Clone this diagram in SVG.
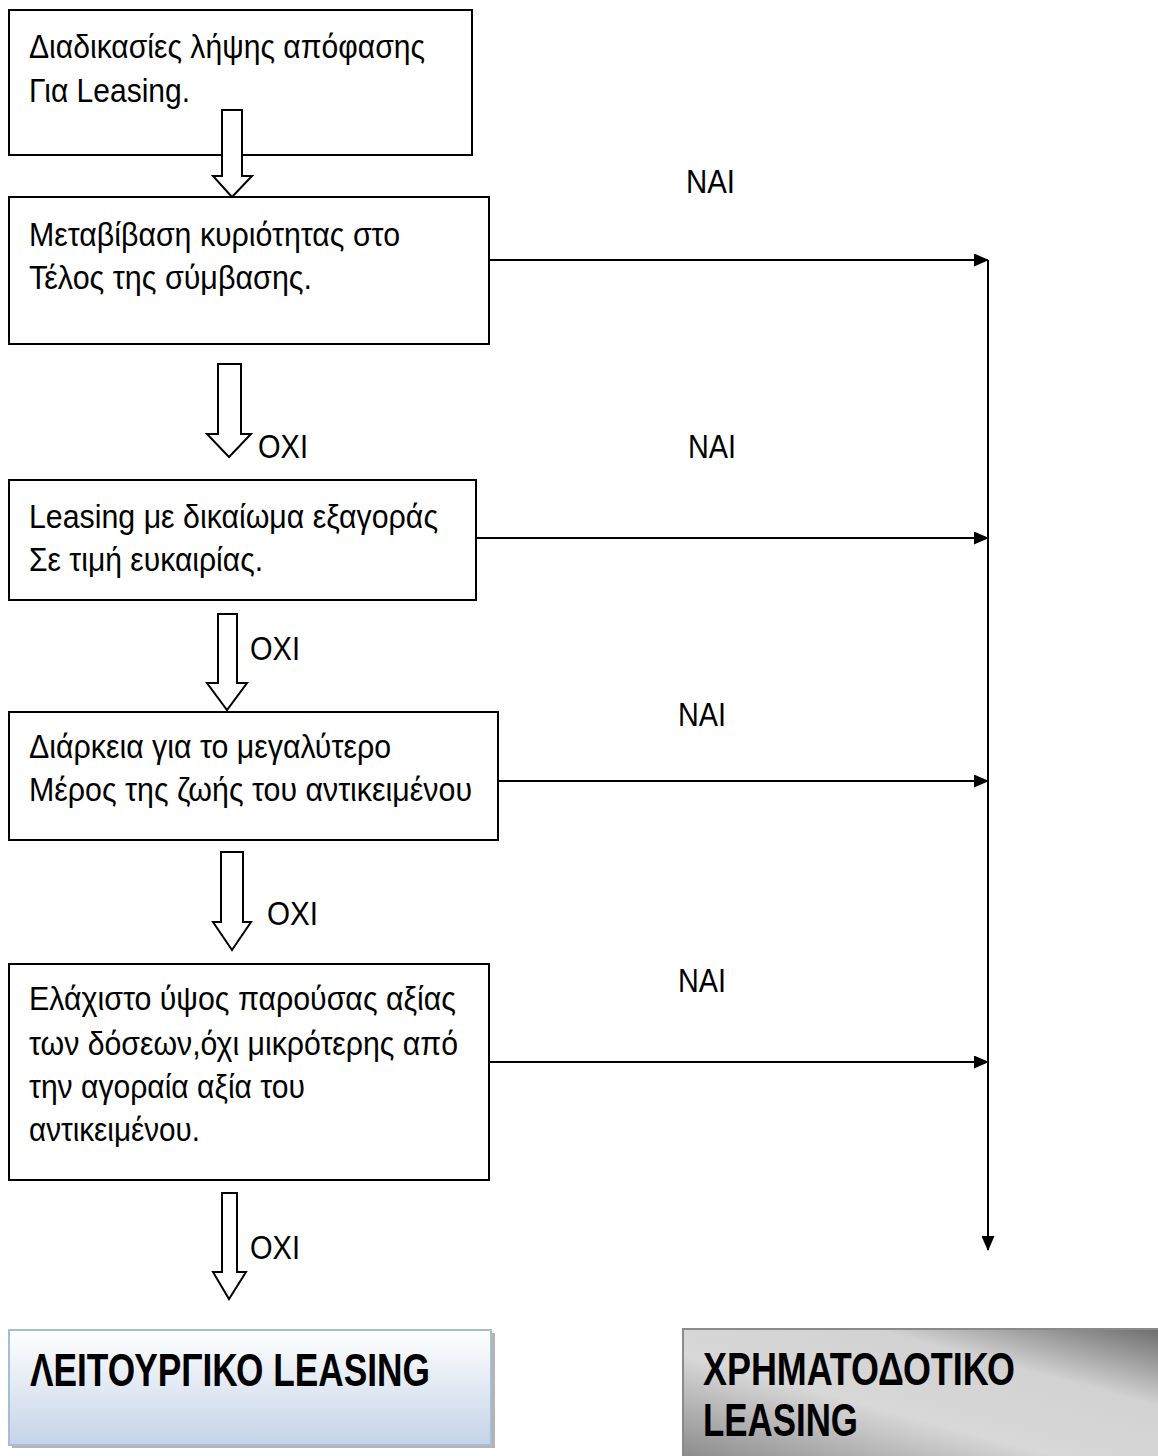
<svg xmlns="http://www.w3.org/2000/svg" width="1158" height="1456" viewBox="0 0 1158 1456">
<style>
.box{fill:#fff;stroke:#000;stroke-width:2}
.t{font-family:"Liberation Sans",Arial,sans-serif;font-size:34px;fill:#000}
.b{font-family:"Liberation Sans",Arial,sans-serif;font-size:46px;font-weight:bold;fill:#000}
.ba{fill:#fff;stroke:#000;stroke-width:2;stroke-linejoin:miter}
.ln{stroke:#000;stroke-width:2;fill:none}
</style>
<defs>
<marker id="ah" markerWidth="15" markerHeight="13" refX="14" refY="6.5" orient="auto" markerUnits="userSpaceOnUse">
<path d="M0,0 L15,6.5 L0,13 Z" fill="#000"/>
</marker>
<linearGradient id="blue" x1="0" y1="0" x2="0" y2="1">
<stop offset="0" stop-color="#ffffff"/>
<stop offset="1" stop-color="#c4d3e8"/>
</linearGradient>
<linearGradient id="grey" x1="0" y1="1" x2="1" y2="0">
<stop offset="0" stop-color="#8a8a8a"/>
<stop offset="0.4" stop-color="#d8d8d8"/>
<stop offset="0.7" stop-color="#d2d2d2"/>
<stop offset="1" stop-color="#6c6c6c"/>
</linearGradient>
</defs>

<g id="connectors">
<line class="ln" x1="489" y1="260" x2="988" y2="260" marker-end="url(#ah)"/>
<line class="ln" x1="476" y1="538" x2="988" y2="538" marker-end="url(#ah)"/>
<line class="ln" x1="498" y1="781" x2="988" y2="781" marker-end="url(#ah)"/>
<line class="ln" x1="489" y1="1062" x2="988" y2="1062" marker-end="url(#ah)"/>
<line class="ln" x1="988" y1="260" x2="988" y2="1250" marker-end="url(#ah)"/>
<text class="t" x="686" y="193" textLength="49" lengthAdjust="spacingAndGlyphs">NAI</text>
<text class="t" x="688" y="458" textLength="48" lengthAdjust="spacingAndGlyphs">NAI</text>
<text class="t" x="678" y="726" textLength="48" lengthAdjust="spacingAndGlyphs">NAI</text>
<text class="t" x="678" y="992" textLength="48" lengthAdjust="spacingAndGlyphs">NAI</text>
<text class="t" x="258" y="458" textLength="50" lengthAdjust="spacingAndGlyphs">OXI</text>
<text class="t" x="250" y="660" textLength="50" lengthAdjust="spacingAndGlyphs">OXI</text>
<text class="t" x="267" y="925" textLength="51" lengthAdjust="spacingAndGlyphs">OXI</text>
<text class="t" x="250" y="1259" textLength="50" lengthAdjust="spacingAndGlyphs">OXI</text>
</g>

<g id="n1">
<rect class="box" x="9" y="10" width="463" height="145"/>
<text class="t" x="29" y="58" textLength="396" lengthAdjust="spacingAndGlyphs">Διαδικασίες λήψης απόφασης</text>
<text class="t" x="29" y="102" textLength="161" lengthAdjust="spacingAndGlyphs">Για Leasing.</text>
</g>

<g id="n2">
<rect class="box" x="9" y="197" width="480" height="147"/>
<text class="t" x="29" y="246" textLength="371" lengthAdjust="spacingAndGlyphs">Μεταβίβαση κυριότητας στο</text>
<text class="t" x="29" y="289" textLength="283" lengthAdjust="spacingAndGlyphs">Τέλος της σύμβασης.</text>
</g>

<g id="n3">
<rect class="box" x="9" y="480" width="467" height="120"/>
<text class="t" x="29" y="528" textLength="409" lengthAdjust="spacingAndGlyphs">Leasing με δικαίωμα εξαγοράς</text>
<text class="t" x="29" y="571" textLength="234" lengthAdjust="spacingAndGlyphs">Σε τιμή ευκαιρίας.</text>
</g>

<g id="n4">
<rect class="box" x="9" y="712" width="489" height="128"/>
<text class="t" x="29" y="758" textLength="362" lengthAdjust="spacingAndGlyphs">Διάρκεια για το μεγαλύτερο</text>
<text class="t" x="29" y="801" textLength="443" lengthAdjust="spacingAndGlyphs">Μέρος της ζωής του αντικειμένου</text>
</g>

<g id="n5">
<rect class="box" x="9" y="964" width="480" height="216"/>
<text class="t" x="29" y="1010" textLength="427" lengthAdjust="spacingAndGlyphs">Ελάχιστο ύψος παρούσας αξίας</text>
<text class="t" x="29" y="1055" textLength="429" lengthAdjust="spacingAndGlyphs">των δόσεων,όχι μικρότερης από</text>
<text class="t" x="29" y="1098" textLength="276" lengthAdjust="spacingAndGlyphs">την αγοραία αξία του</text>
<text class="t" x="29" y="1141" textLength="171" lengthAdjust="spacingAndGlyphs">αντικειμένου.</text>
</g>

<g id="blockarrows">
<path class="ba" d="M222,110 L242,110 L242,176 L252,176 L232,197 L213,176 L222,176 Z"/>
<path class="ba" d="M218,364 L241,364 L241,434 L251,434 L229,457 L207,434 L218,434 Z"/>
<path class="ba" d="M218,614 L237,614 L237,683 L247,683 L227,710 L207,683 L218,683 Z"/>
<path class="ba" d="M221,852 L243,852 L243,922 L251,922 L232,950 L213,922 L221,922 Z"/>
<path class="ba" d="M222,1193 L237,1193 L237,1272 L246,1272 L229,1299 L213,1272 L222,1272 Z"/>
</g>

<g id="n6">
<rect x="12" y="1333" width="483" height="115" fill="#b4b4b4"/>
<rect x="9" y="1330" width="482" height="115" fill="url(#blue)" stroke="#a9bcd6" stroke-width="2"/>
<text class="b" x="30" y="1386" textLength="400" lengthAdjust="spacingAndGlyphs">ΛΕΙΤΟΥΡΓΙΚΟ LEASING</text>
</g>

<g id="n7">
<rect x="683" y="1329" width="480" height="130" fill="url(#grey)" stroke="#8a8a8a" stroke-width="2"/>
<text class="b" x="703" y="1385" textLength="312" lengthAdjust="spacingAndGlyphs">ΧΡΗΜΑΤΟΔΟΤΙΚΟ</text>
<text class="b" x="703" y="1436" textLength="155" lengthAdjust="spacingAndGlyphs">LEASING</text>
</g>
</svg>
